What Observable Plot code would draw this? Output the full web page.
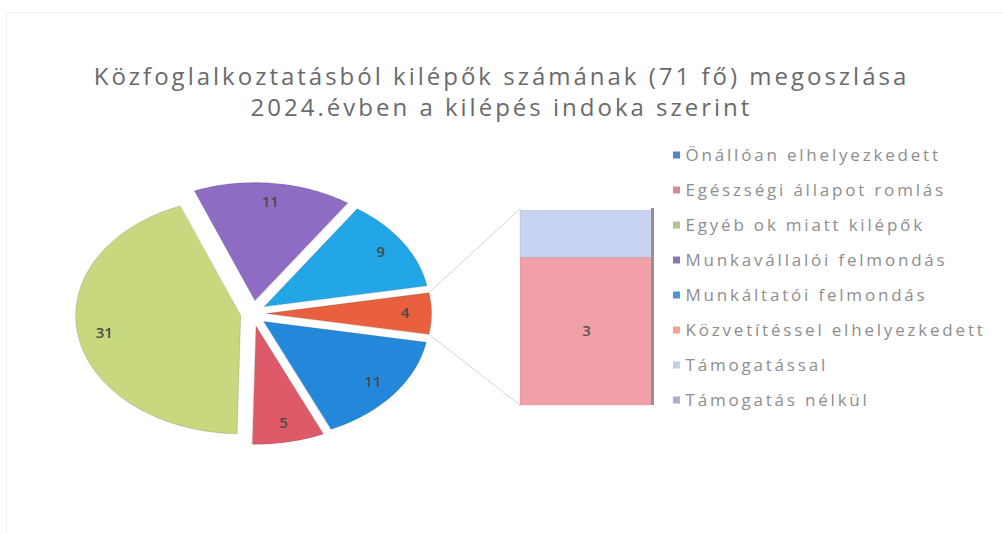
<!DOCTYPE html>
<html><head><meta charset="utf-8">
<script src="https://cdn.jsdelivr.net/npm/d3@7"></script>
<script src="https://cdn.jsdelivr.net/npm/@observablehq/plot@0.6"></script>
<style>
body{margin:0;background:#fff;}
#wrap{position:relative;width:1003px;height:533px;overflow:hidden;background:#fff;}
#frame{position:absolute;left:6px;top:12px;width:1000px;height:530px;border-left:1px solid #f0f0f0;border-top:1px solid #efefef;}
#title{position:relative;width:1003px;height:130px;box-sizing:border-box;padding-top:60px;text-align:center;font-family:"Open Sans",sans-serif;font-size:24px;line-height:31px;color:#6a6a6a;letter-spacing:3px;}
#chart{position:relative;}
</style>
</head><body>
<div id="wrap">
<div id="frame"></div>
<div id="title">Közfoglalkoztatásból kilépők számának (71 fő) megoszlása<br>2024.évben a kilépés indoka szerint</div>
<div id="chart"></div>
</div>
<script>
// ---- data ----
const categories = ["Önállóan elhelyezkedett","Egészségi állapot romlás","Egyéb ok miatt kilépők","Munkavállalói felmondás","Munkáltatói felmondás","Közvetítéssel elhelyezkedett","Támogatással","Támogatás nélkül"];
const values = [11,5,31,11,9,3,1,0];
const pieCount = 5;           // first five in the pie, the rest in the bar
const otherKey = "Egyéb (oszlop)";
// ---- styles ----
const colors = ["#2388da","#de5a68","#c8d87e","#8f6cc4","#22a6e6","#f2a0a8","#c8d3f2","#a98bc8"];
const otherColor = "#e8603e";
const legendColors = ["#4f86cc","#d58a9a","#b4c48e","#8d74b8","#4d95d4","#f2a58c","#c4cde6","#b9a8d0"];

// ---- layout ----
const W = 1003, topY = 130, H = 533 - topY;
const cx = 253, cy = 313, rx = 165, ry = 118, explode = 13;
const bar = {x0: 520, x1: 652, bottom: 405, top: 208};
const leg = {x: 673, y0: 155, dy: 35, size: 7};

const total = d3.sum(values);
const pieItems = categories.slice(0, pieCount).map((c,i) => ({key:c, value:values[i]}));
const barItems = categories.slice(pieCount).map((c,i) => ({key:c, value:values[pieCount+i]}));
const otherValue = d3.sum(barItems, d => d.value);
pieItems.push({key: otherKey, value: otherValue});

const otherAngle = otherValue / total * 2 * Math.PI;
const start = Math.PI/2 + otherAngle/2;
const arcs = d3.pie().sort(null).value(d => d.value).startAngle(start).endAngle(start + 2*Math.PI)(pieItems);

const P = (t, r, ox=0, oy=0) => ({x: cx + ox + r*rx*Math.sin(t), y: cy + oy - r*ry*Math.cos(t)});
const piePts = [], pieLabels = [];
let otherArc;
for (const a of arcs) {
  const mid = (a.startAngle + a.endAngle)/2;
  const ox = explode*Math.sin(mid), oy = -explode*Math.cos(mid);
  const key = a.data.key;
  piePts.push({key, ...P(0,0,ox,oy)});
  const n = Math.max(8, Math.ceil((a.endAngle - a.startAngle) * 60));
  for (let k=0;k<=n;k++) piePts.push({key, ...P(a.startAngle + (a.endAngle-a.startAngle)*k/n, 1, ox, oy)});
  pieLabels.push({label: String(a.data.value), ...P(mid, 0.84, ox, oy)});
  if (key === otherKey) otherArc = {a0:a.startAngle, a1:a.endAngle, ox, oy};
}

// bar segments stacked from data (0-value drawn as a divider between the others)
const barOrder = [categories[5], categories[7], categories[6]];
const unit = (bar.bottom - bar.top) / otherValue;
let acc = 0;
const barSegs = barOrder.map(k => {
  const v = values[categories.indexOf(k)];
  const s = {key:k, value:v, y1: bar.bottom - acc*unit, y2: bar.bottom - (acc+v)*unit};
  acc += v; return s;
});
const barLabels = barSegs.filter(d => d.value >= 2).map(d => ({label:String(d.value), x:(bar.x0+bar.x1)/2, y:(d.y1+d.y2)/2}));

const pO = P(otherArc.a0, 1, otherArc.ox, otherArc.oy), pE = P(otherArc.a1, 1, otherArc.ox, otherArc.oy);
const links = [
  {x1:pO.x, y1:pO.y, x2:bar.x0, y2:bar.top},
  {x1:pE.x, y1:pE.y, x2:bar.x0, y2:bar.bottom}
];

const legend = categories.map((c,i) => ({key:c, x: leg.x, y: leg.y0 + i*leg.dy, color: legendColors[i]}));

const chart = Plot.plot({
  width: W, height: H, margin: 0,
  style: {background: "transparent", fontFamily: "Open Sans, sans-serif"},
  x: {domain:[0,W], range:[0,W], axis:null},
  y: {domain:[topY,533], range:[0,H], axis:null},
  color: {domain:[...categories, otherKey], range:[...colors, otherColor]},
  marks: [
    Plot.link(links, {x1:"x1", y1:"y1", x2:"x2", y2:"y2", stroke:"#d4d4d4", strokeWidth:1}),
    Plot.line(piePts, {x:"x", y:"y", z:"key", fill:"key", stroke:"rgba(0,0,0,0.14)", strokeWidth:1, curve:"linear-closed"}),
    Plot.text(pieLabels, {x:"x", y:"y", text:"label", fill:"#4a4a4a", fontSize:15, fontWeight:600}),
    Plot.rect(barSegs, {x1:() => bar.x0, x2:() => bar.x1, y1:"y1", y2:"y2", fill:"key", stroke:d => d.value === 0 ? "#b392cc" : "rgba(0,0,0,0.08)", strokeWidth:d => d.value === 0 ? 3 : 1}),
    Plot.ruleY([bar.top], {x1:bar.x0, x2:bar.x1, stroke:"#ffffff", strokeWidth:3}),
    Plot.ruleX([bar.x1], {y1:bar.top, y2:bar.bottom, stroke:"#9a8c9c", strokeWidth:3}),
    Plot.text(barLabels, {x:"x", y:"y", text:"label", fill:"#555", fontSize:15, fontWeight:600}),
    Plot.rect(legend, {x1:"x", x2:d => d.x + leg.size, y1:d => d.y - leg.size/2, y2:d => d.y + leg.size/2, fill:"color"}),
    Plot.text(legend, {x:d => d.x + leg.size + 5, y:"y", text:"key", textAnchor:"start", fill:"#8e8e8e", fontSize:17})
  ]
});
// widen the legend lettering like the original
const catSet = new Set(categories);
d3.select(chart).selectAll("text").filter(function(){ return catSet.has(this.textContent); }).style("letter-spacing", "2.8px");
document.getElementById("chart").appendChild(chart);
</script>
</body></html>
